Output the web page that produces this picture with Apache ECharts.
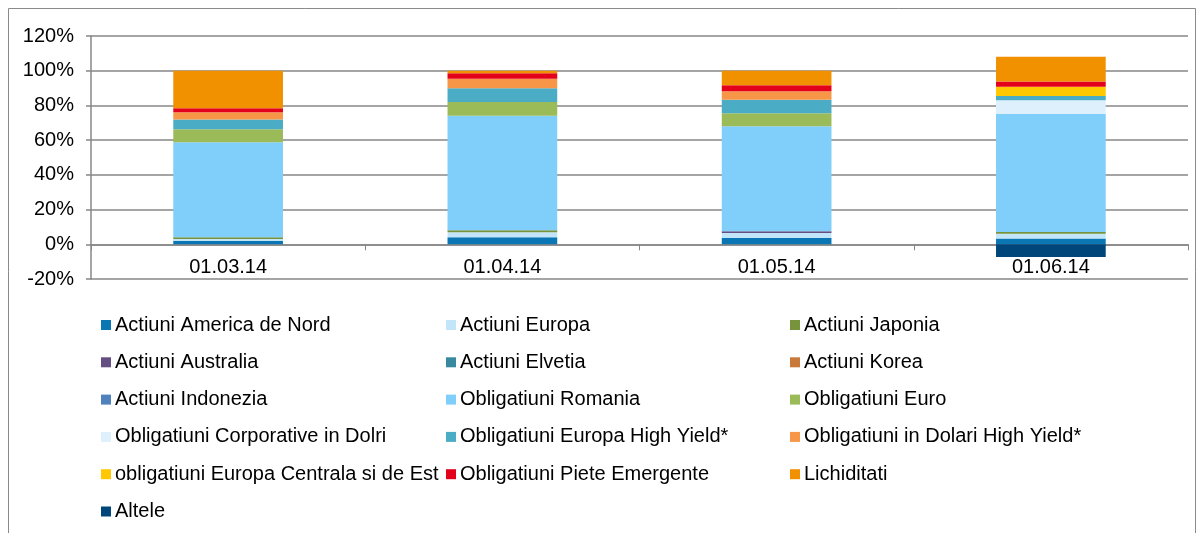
<!DOCTYPE html>
<html>
<head>
<meta charset="utf-8">
<script src="https://cdn.jsdelivr.net/npm/echarts@6/dist/echarts.min.js"></script>
<style>
  html, body { margin: 0; padding: 0; background: #fff; }
  #chart { width: 1202px; height: 533px; }
</style>
</head>
<body>
<div id="chart"></div>
<script>
// categorii (date)
const categories = ["01.03.14", "01.04.14", "01.05.14", "01.06.14"];
const yTicks = { min: -20, max: 120, interval: 20 };

// valori in %
const actiuniAmericaNord = [2.0, 4.1, 3.6, 3.4];
const actiuniEuropa = [1.1, 2.8, 2.9, 2.7];
const actiuniJaponia = [0.9, 1.2, 0, 1.0];
const actiuniAustralia = [0, 0, 1.0, 0];
const actiuniElvetia = [0, 0, 0, 0];
const actiuniKorea = [0, 0, 0, 0];
const actiuniIndonezia = [0, 0, 0, 0];
const obligRomania = [54.8, 66.0, 60.5, 67.9];
const obligEuro = [7.5, 7.9, 7.5, 0];
const obligCorporativeDolari = [0, 0, 0, 8.0];
const obligEuropaHY = [5.6, 7.9, 7.7, 2.5];
const obligDolariHY = [4.2, 5.4, 5.0, 0];
const obligEuropaCentrala = [0, 0, 0, 5.2];
const obligPieteEmergente = [2.3, 3.3, 3.4, 3.1];
const lichiditati = [21.6, 1.4, 8.4, 14.2];
const altele = [0, 0, 0, -7.3];

// ordinea de stivuire (jos -> sus)
const seriesDefs = [
  ["Actiuni America de Nord", actiuniAmericaNord, "#0a76b4"],
  ["Actiuni Europa", actiuniEuropa, "#c2e5f9"],
  ["Actiuni Japonia", actiuniJaponia, "#77933c"],
  ["Actiuni Australia", actiuniAustralia, "#654f82"],
  ["Actiuni Elvetia", actiuniElvetia, "#378a9e"],
  ["Actiuni Korea", actiuniKorea, "#c97a3b"],
  ["Actiuni Indonezia", actiuniIndonezia, "#4f81bd"],
  ["Obligatiuni Romania", obligRomania, "#80cefa"],
  ["Obligatiuni Euro", obligEuro, "#9bbb59"],
  ["Obligatiuni Corporative in Dolri", obligCorporativeDolari, "#ddf0fc"],
  ["Obligatiuni Europa High Yield*", obligEuropaHY, "#4bacc6"],
  ["Obligatiuni in Dolari High Yield*", obligDolariHY, "#f79646"],
  ["obligatiuni Europa Centrala si de Est", obligEuropaCentrala, "#ffc800"],
  ["Obligatiuni Piete Emergente", obligPieteEmergente, "#e3001b"],
  ["Lichiditati", lichiditati, "#f29100"],
  ["Altele", altele, "#00467a"]
];

// coloanele legendei (ca in Excel, pe randuri de cate 3)
const legendCols = [[], [], []];
seriesDefs.forEach((s, i) => legendCols[i % 3].push(s[0]));

const FONT = "'Liberation Sans', Arial, sans-serif";
const FSIZE = 20;
const gridColor = "#878787";

const chart = echarts.init(document.getElementById("chart"));

const legendLeft = [101, 446, 790];
const legends = legendCols.map((names, i) => ({
  data: names,
  orient: "vertical",
  left: legendLeft[i],
  top: 315,
  padding: 0,
  itemGap: 17.3,
  itemWidth: 10,
  itemHeight: 10,
  icon: "rect",
  selectedMode: false,
  textStyle: { fontFamily: FONT, fontSize: FSIZE, color: "#000", lineHeight: 20, padding: [0, 0, 0, -1] }
}));

const option = {
  animation: false,
  backgroundColor: "#fff",
  textStyle: { fontFamily: FONT },
  graphic: [{
    type: "rect",
    shape: { x: 8.5, y: 8.5, width: 1187, height: 600 },
    style: { fill: "none", stroke: "#8a8a8a", lineWidth: 1 },
    silent: true
  }],
  grid: { left: 91, right: 14, top: 36, bottom: 254 },
  legend: legends,
  xAxis: {
    type: "category",
    data: categories,
    axisLine: { onZero: true, lineStyle: { color: gridColor, width: 1.5 } },
    axisTick: { show: true, length: 6, lineStyle: { color: gridColor } },
    // etichetele stau sub linia de 0, nu jos la -20%
    axisLabel: { margin: -22, fontSize: FSIZE, color: "#000", fontFamily: FONT }
  },
  yAxis: {
    type: "value",
    min: yTicks.min,
    max: yTicks.max,
    interval: yTicks.interval,
    axisLine: { show: true, lineStyle: { color: gridColor, width: 1.5 } },
    axisTick: { show: true, length: 5, lineStyle: { color: gridColor, width: 1.5 } },
    splitLine: { lineStyle: { color: gridColor, width: 1.5 } },
    axisLabel: { formatter: "{value}%", margin: 17, fontSize: FSIZE, color: "#000", fontFamily: FONT }
  },
  series: seriesDefs.map(([name, vals, color]) => ({
    name: name,
    type: "bar",
    stack: "total",
    barWidth: "40%",
    data: vals,
    itemStyle: { color: color },
    emphasis: { disabled: true }
  }))
};

chart.setOption(option);
</script>
</body>
</html>
